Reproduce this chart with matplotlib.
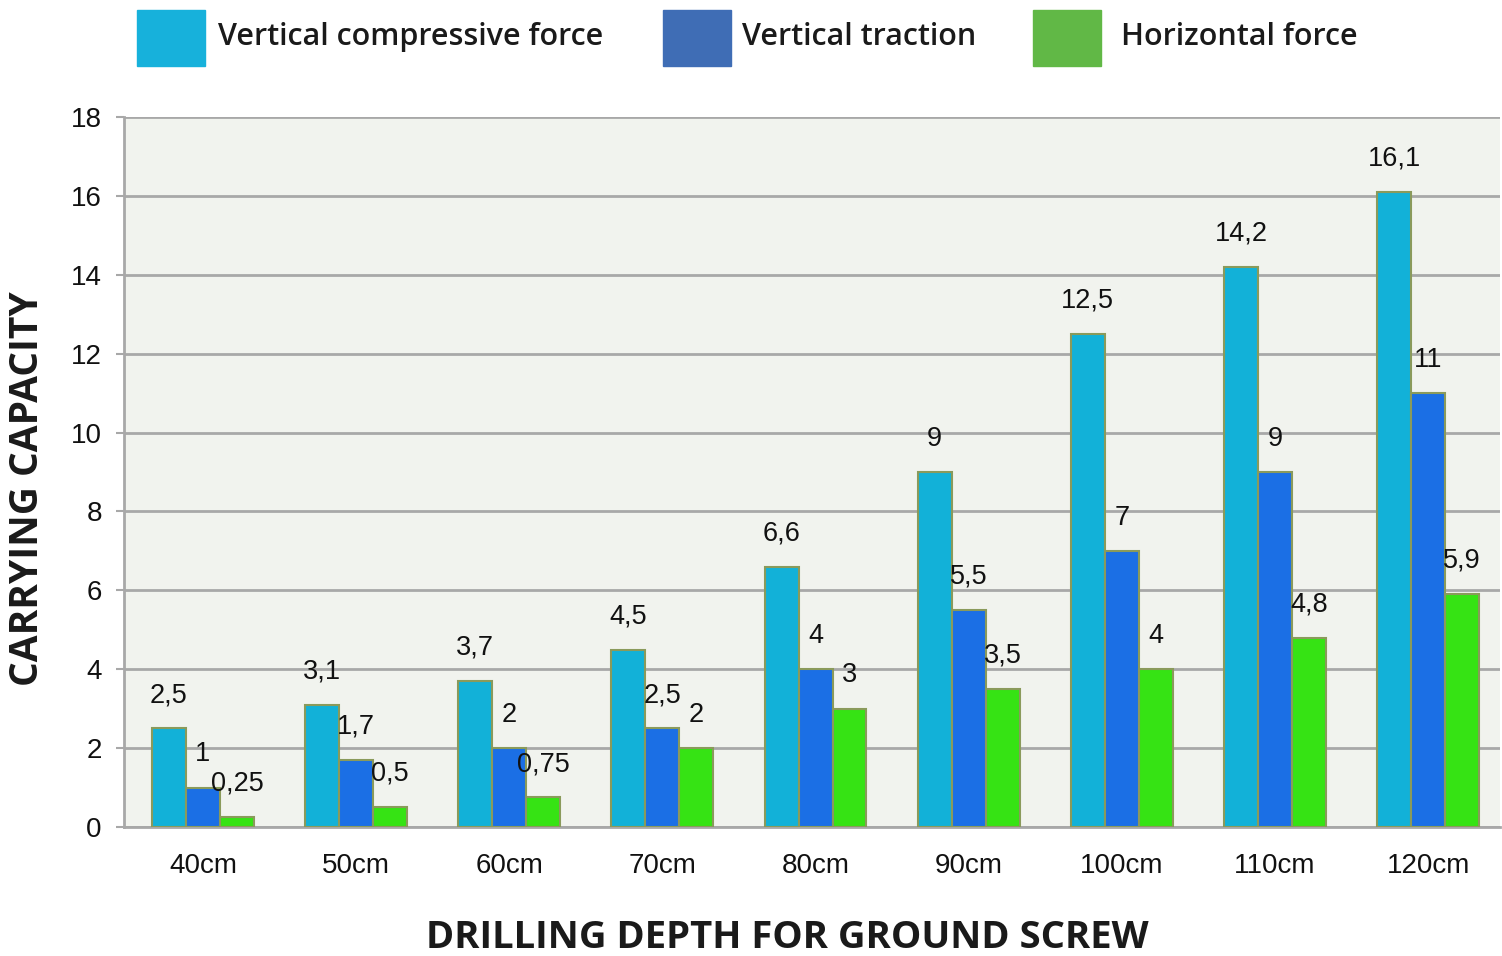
import numpy as np
import matplotlib.pyplot as plt
from matplotlib.patches import Rectangle

depths = ["40cm", "50cm", "60cm", "70cm", "80cm", "90cm", "100cm", "110cm", "120cm"]
compressive = [2.5, 3.1, 3.7, 4.5, 6.6, 9, 12.5, 14.2, 16.1]
traction = [1, 1.7, 2, 2.5, 4, 5.5, 7, 9, 11]
horizontal = [0.25, 0.5, 0.75, 2, 3, 3.5, 4, 4.8, 5.9]

series_names = ["Vertical compressive force", "Vertical traction", "Horizontal force"]
bar_colors = ["#12b1d8", "#1b6fe5", "#36e314"]
legend_colors = ["#17b1db", "#3f6db5", "#61b846"]


def fmt(v):
    s = f"{v:g}"
    return s.replace(".", ",")


W, H = 1502, 956
fig = plt.figure(figsize=(15.02, 9.56), dpi=100)
ax = fig.add_axes([0.0826, 0.1349, 0.9161, 0.7427])
ax.set_facecolor("#f1f3ee")

x = np.arange(len(depths))
w = 0.222
for i, vals in enumerate([compressive, traction, horizontal]):
    pos = x + (i - 1) * w
    ax.bar(pos, vals, width=w, color=bar_colors[i], edgecolor="#8a9a5b",
           linewidth=1.5, zorder=3)
    for px, v in zip(pos, vals):
        ax.annotate(fmt(v), (px, v), xytext=(0, 24), textcoords="offset points",
                    ha="center", va="center", fontsize=19.5,
                    family="Liberation Sans", color="#111111", zorder=4)

ax.set_xlim(-0.515, len(depths) - 0.53)
ax.set_ylim(0, 18)
ax.set_yticks(range(0, 19, 2))
ax.set_xticks(x)
ax.set_xticklabels(depths)
ax.grid(axis="y", color="#a8a8a8", linewidth=2, zorder=0)
ax.set_axisbelow(True)
for s in ["top", "right"]:
    ax.spines[s].set_visible(False)
for s in ["left", "bottom"]:
    ax.spines[s].set_color("#a8a8a8")
    ax.spines[s].set_linewidth(2)
ax.tick_params(axis="y", length=6, width=1.5, color="#a8a8a8", pad=10,
               labelsize=20)
ax.tick_params(axis="x", length=0, pad=19, labelsize=20)
for lab in ax.get_xticklabels() + ax.get_yticklabels():
    lab.set_family("Liberation Sans")
    lab.set_color("#111111")

fig.text(28 / W, 1 - 489 / H, "CARRYING CAPACITY", fontsize=28,
         fontweight="bold", family="Open Sans", color="#1a1a1a",
         rotation=90, ha="center", va="center")
fig.text(787 / W, 1 - 938 / H, "DRILLING DEPTH FOR GROUND SCREW", fontsize=27.5,
         fontweight="bold", family="Open Sans", color="#1a1a1a",
         ha="center", va="center")

# legend across the top
boxes = [137, 663, 1033]
texts = [218, 742, 1121]
for bx, tx, col, name in zip(boxes, texts, legend_colors, series_names):
    fig.add_artist(Rectangle((bx / W, 1 - 66 / H), 68 / W, 56 / H,
                             transform=fig.transFigure, color=col))
    fig.text(tx / W, 1 - 37 / H, name, fontsize=22, fontweight="semibold",
             family="Open Sans", color="#1a1a1a", va="center", ha="left")

fig.savefig("out.png", dpi=100)
